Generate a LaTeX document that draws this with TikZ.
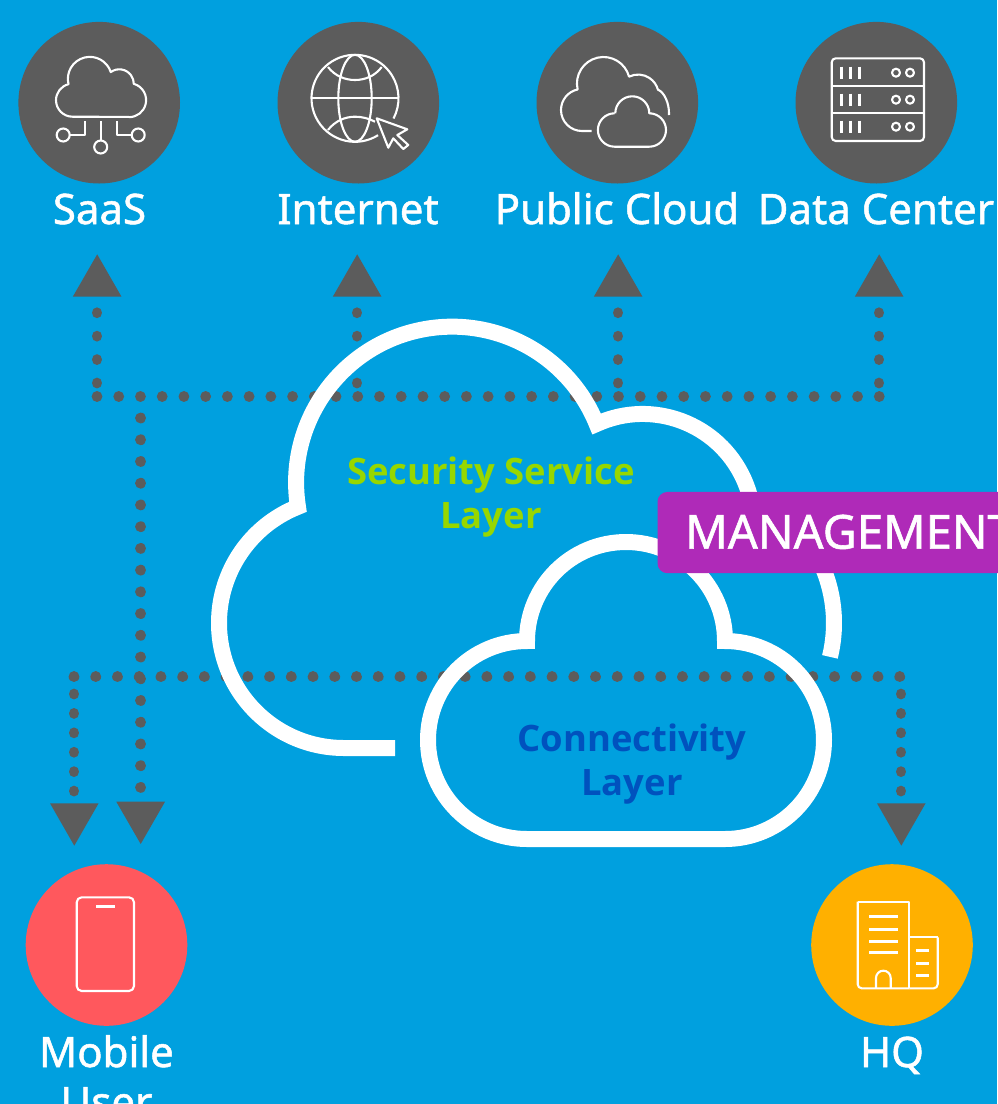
\documentclass[tikz,border=0pt]{standalone}
\usepackage{fontspec}
\setmainfont{Noto Sans}[FakeBold=1.2]
\newfontfamily\layfont{Open Sans}[BoldFont={* Bold}]
\definecolor{bgblue}{RGB}{0,160,223}
\definecolor{dotgray}{RGB}{92,92,92}
\definecolor{redc}{RGB}{255,88,93}
\definecolor{orangec}{RGB}{255,176,0}
\definecolor{purplec}{RGB}{175,42,184}
\definecolor{greenc}{RGB}{151,215,0}
\definecolor{bluec}{RGB}{0,82,190}
\tikzset{
 hub/.style={circle,minimum size=161.6pt,inner sep=0pt,fill=dotgray},
 lbl/.style={text=white,inner sep=0pt,anchor=base,font=\fontsize{42}{50}\selectfont},
 lay/.style={inner sep=0pt,anchor=base,font=\layfont\bfseries\fontsize{36.4}{44}\selectfont},
 dotsh/.style={line cap=round,line width=10.8pt,dotgray,dash pattern=on 0.01pt off 21.72pt},
 dotsu/.style={line cap=round,line width=10.8pt,dotgray,dash pattern=on 0.01pt off 23.4pt},
 dotsd/.style={line cap=round,line width=10.8pt,dotgray,dash pattern=on 0.01pt off 19.4pt},
 tri/.style={fill=dotgray},
 cloudline/.style={draw=white,line width=16pt,line join=miter,miter limit=10},
 icon/.style={draw=white,line width=2.1pt,line join=round},
 iconbar/.style={draw=white,line width=3pt},
}
\begin{document}
\begin{tikzpicture}[x=1pt,y=1pt,yscale=-1]
\useasboundingbox (0,0) rectangle (997,1104);
\fill[bgblue] (0,0) rectangle (997,1104);
% junction coordinates
\coordinate (rowL) at (97,396.5);   \coordinate (rowR) at (880.5,396.5);
\coordinate (lowL) at (74,676.7);   \coordinate (lowR) at (901.5,676.7);
\coordinate (a1s) at (97,383);  \coordinate (a1e) at (97,312);
\coordinate (a2s) at (357,383); \coordinate (a2e) at (357,312);
\coordinate (a3s) at (618,383); \coordinate (a3e) at (618,312);
\coordinate (a4s) at (879,383); \coordinate (a4e) at (879,312);
\coordinate (ts) at (140.7,418); \coordinate (te) at (140.7,788);
\coordinate (ls) at (74,694);  \coordinate (le) at (74,792);
\coordinate (rs) at (901,694); \coordinate (re) at (901,792);
% dotted connectors
\draw[dotsh] (rowL) -- (rowR);
\draw[dotsh] (lowL) -- (lowR);
\draw[dotsu] (a1s) -- (a1e);
\draw[dotsu] (a2s) -- (a2e);
\draw[dotsu] (a3s) -- (a3e);
\draw[dotsu] (a4s) -- (a4e);
\draw[dotsh] (ts) -- (te);
\draw[dotsd] (ls) -- (le);
\draw[dotsd] (rs) -- (re);
% arrowheads
\fill[tri] (97.2,254.3) -- (121.5,296.7) -- (72.8,296.7) -- cycle;
\fill[tri] (357.2,254.3) -- (381.5,296.7) -- (332.8,296.7) -- cycle;
\fill[tri] (618.2,254.3) -- (642.5,296.7) -- (593.8,296.7) -- cycle;
\fill[tri] (879.2,254.3) -- (903.5,296.7) -- (854.8,296.7) -- cycle;
\fill[tri] (74.3,845.7) -- (98.6,803.3) -- (50,803.3) -- cycle;
\fill[tri] (140.7,844) -- (165,801.7) -- (116.3,801.7) -- cycle;
\fill[tri] (901.3,845.7) -- (925.6,803.3) -- (877,803.3) -- cycle;
% security cloud
\draw[cloudline] (395,748) -- (344,748)
  arc[start angle=90,end angle=248.4,radius=125]
  arc[start angle=171.1,end angle=337.9,radius=156]
  arc[start angle=245.5,end angle=363,radius=111];
\draw[cloudline] (691,623) ++(319.4:143) arc[start angle=319.4,end angle=373.7,radius=143];
% connectivity cloud
\draw[cloudline] (527,641)
  arc[start angle=180,end angle=360,radius=99]
  arc[start angle=270,end angle=450,radius=99]
  -- (527,839)
  arc[start angle=90,end angle=270,radius=99] -- cycle;
% management
\node[fill=purplec,rounded corners=10pt,anchor=north west,minimum width=380pt,minimum height=81.3pt,inner sep=0pt] (mgmtbox) at (657.3,491.7) {};
\node[text=white,inner sep=0pt,anchor=base west,font=\fontsize{47}{50}\selectfont] (mgmt) at (685,548.7) {MANAGEMENT};
% layer labels
\node[lay,text=greenc] (sec1) at (491,484) {Security Service};
\node[lay,text=greenc] (sec2) at (491,528) {Layer};
\node[lay,text=bluec] (con1) at (632,751) {Connectivity};
\node[lay,text=bluec] (con2) at (632,795) {Layer};
% hubs
\node[hub] (saas) at (99.2,102.7) {};
\node[hub] (inet) at (358.3,102.7) {};
\node[hub] (pub) at (617.3,102.7) {};
\node[hub] (dc) at (876.3,102.7) {};
\node[hub,fill=redc] (mob) at (106.5,945) {};
\node[hub,fill=orangec] (hq) at (892,945) {};
% labels
\node[lbl] (l1) at (99.5,224) {SaaS};
\node[lbl] (l2) at (358,224) {Internet};
\node[lbl] (l3) at (617,224) {Public Cloud};
\node[lbl] (l4) at (876,224) {Data Center};
\node[lbl] (l5) at (106.5,1067) {Mobile};
\node[lbl] (l6) at (106.5,1117) {User};
\node[lbl] (l7) at (892,1067) {HQ};
% SaaS icon
\draw[icon] (129,116.9) -- (72.5,116.7)
  arc[start angle=90,end angle=256,radius=16.5]
  arc[start angle=166,end angle=342,radius=22]
  arc[start angle=234,end angle=360,radius=14.5]
  arc[start angle=286,end angle=450,radius=17] -- cycle;
\draw[icon] (100.7,121) -- (100.7,140.5);
\draw[icon] (100.7,147) circle[radius=6.5];
\draw[icon] (85,121) -- (85,135) -- (69.7,135);
\draw[icon] (63.2,135) circle[radius=6.5];
\draw[icon] (116.7,121) -- (116.7,135) -- (131.7,135);
\draw[icon] (138.2,135) circle[radius=6.5];
% Internet icon
\draw[icon] (355,98.3) ++(58:43.5) arc[start angle=58,end angle=387.7,radius=43.5];
\draw[icon] (311.7,98.3) -- (398.5,98.3);
\draw[icon] (355,98.3) ellipse[x radius=16.7,y radius=43.5];
\draw[icon] (328,67) .. controls (335,76) and (345,80) .. (355,80) .. controls (365,80) and (375,76) .. (381.7,67);
\draw[icon] (328,130) .. controls (335,121) and (345,116.7) .. (355,116.7) .. controls (362,116.7) and (369,118.5) .. (375,121.7);
\draw[icon] (376.7,118.3) -- (407.3,129.3) -- (397.3,135) -- (408.3,145) -- (403.3,149) -- (393.3,138.3) -- (388.3,147.7) -- cycle;
% Public cloud icon
\draw[icon] (591.7,131) -- (582,131)
  arc[start angle=90,end angle=258,radius=21]
  arc[start angle=167,end angle=345,radius=26.5]
  arc[start angle=244,end angle=344.5,radius=20.6]
  .. controls (664,92) and (669.5,103) .. (669,115);
\draw[icon] (615.3,113.3)
  arc[start angle=180,end angle=360,radius=17]
  arc[start angle=270,end angle=450,radius=16.7]
  -- (614.6,146.7)
  arc[start angle=90,end angle=270,radius=16.7];
% Data center icon
\draw[icon,rounded corners=4pt] (831.7,58.3) rectangle (924,141);
\draw[icon] (831.7,86) -- (924,86);
\draw[icon] (831.7,113.3) -- (924,113.3);
\foreach \yy in {0,27,54}{
  \draw[iconbar] (841.7,66.7+\yy) -- (841.7,79.3+\yy);
  \draw[iconbar] (850.5,66.7+\yy) -- (850.5,79.3+\yy);
  \draw[iconbar] (859.7,66.7+\yy) -- (859.7,79.3+\yy);
  \draw[icon] (896,72.7+\yy) circle[radius=4];
  \draw[icon] (910,72.7+\yy) circle[radius=4];
}
% Mobile icon
\draw[icon,rounded corners=5pt] (76.7,897.3) rectangle (134,991);
\draw[iconbar] (96.3,906) -- (115,906);
% HQ icon
\draw[icon,rounded corners=4pt] (909.3,988.3) -- (857.7,988.3) -- (857.7,901.7);
\draw[icon] (857.7,901.7) -- (909.3,901.7) -- (909.3,988.3);
\draw[icon,rounded corners=4pt] (909.3,988.3) -- (937.7,988.3) -- (937.7,937.3);
\draw[icon] (937.7,937.3) -- (909.3,937.3);
\draw[iconbar] (869.3,916.7) -- (897.7,916.7);
\draw[iconbar] (869.3,929) -- (897.7,929);
\draw[iconbar] (869.3,941) -- (897.7,941);
\draw[iconbar] (869.3,952) -- (897.7,952);
\draw[iconbar] (916.3,950.7) -- (928.7,950.7);
\draw[iconbar] (916.3,963) -- (928.7,963);
\draw[iconbar] (916.3,975) -- (928.7,975);
\draw[icon] (876,988.3) -- (876,978) arc[start angle=180,end angle=360,radius=7.35] -- (890.7,988.3);
\end{tikzpicture}
\end{document}
